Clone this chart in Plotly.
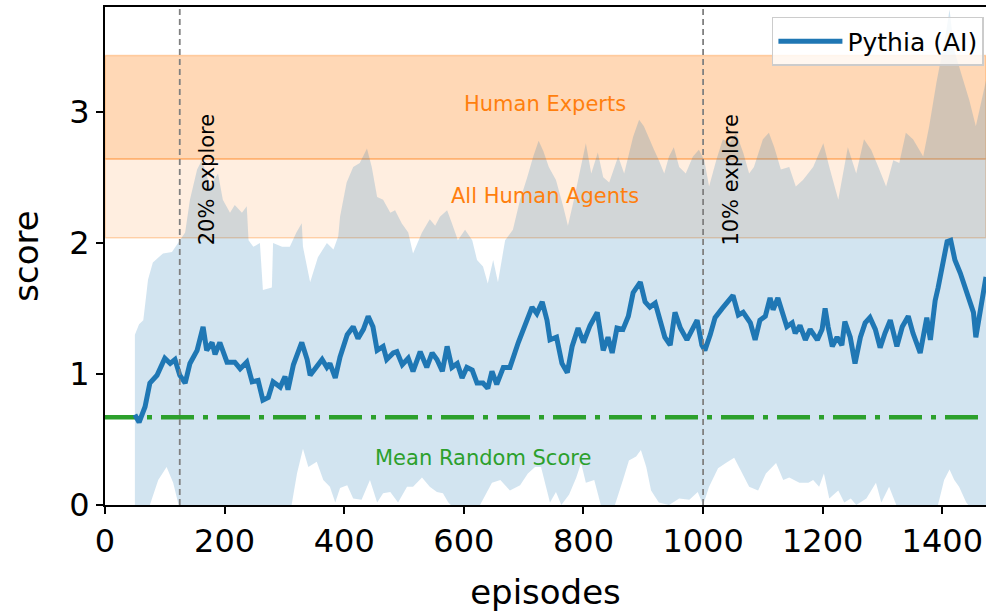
import plotly.graph_objects as go

# Pythia (AI) running mean score per episode
mean_x = [50, 57, 67, 75, 87, 100, 109, 117, 125, 134, 142, 154, 164, 170, 179, 184, 192, 204, 217, 226,
          237, 246, 256, 264, 273, 281, 293, 301, 306, 315, 329, 338, 343, 354, 363, 371, 376, 385, 393, 405,
          415, 423, 432, 440, 448, 455, 465, 471, 482, 488, 497, 507, 515, 527, 538, 547, 555, 564, 572, 580,
          589, 597, 605, 614, 622, 632, 640, 647, 655, 666, 677, 691, 702, 714, 722, 731, 739, 744, 755, 764,
          773, 781, 791, 800, 811, 823, 833, 841, 848, 856, 866, 875, 883, 895, 903, 911, 920, 928, 936, 945,
          953, 962, 973, 982, 990, 998, 1003, 1012, 1020, 1032, 1040, 1050, 1059, 1067, 1079, 1087, 1095, 1104,
          1112, 1117, 1125, 1134, 1140, 1149, 1154, 1162, 1171, 1179, 1191, 1199, 1204, 1209, 1216, 1224, 1232,
          1237, 1246, 1254, 1263, 1271, 1279, 1288, 1296, 1304, 1313, 1324, 1333, 1343, 1351, 1363, 1374, 1380,
          1388, 1393, 1401, 1408, 1414, 1421, 1430, 1438, 1446, 1452, 1456, 1463, 1473]
mean_y = [0.69, 0.63, 0.75, 0.93, 0.99, 1.12, 1.08, 1.11, 0.99, 0.93, 1.08, 1.18, 1.36, 1.18, 1.24, 1.15, 1.24, 1.09, 1.09, 1.04,
          1.09, 0.94, 0.95, 0.80, 0.82, 0.94, 0.90, 0.98, 0.88, 1.07, 1.24, 1.11, 0.99, 1.05, 1.11, 1.05, 1.08, 0.97, 1.13, 1.30,
          1.36, 1.27, 1.34, 1.44, 1.36, 1.18, 1.21, 1.11, 1.16, 1.17, 1.07, 1.12, 1.02, 1.17, 1.05, 1.16, 1.11, 1.02, 1.21, 1.05,
          1.08, 0.97, 1.05, 1.03, 0.93, 0.93, 0.89, 1.02, 0.92, 1.05, 1.05, 1.24, 1.37, 1.51, 1.46, 1.55, 1.41, 1.26, 1.28, 1.08,
          1.01, 1.21, 1.35, 1.24, 1.37, 1.47, 1.18, 1.28, 1.16, 1.35, 1.34, 1.44, 1.62, 1.70, 1.55, 1.51, 1.54, 1.41, 1.28, 1.22,
          1.47, 1.35, 1.26, 1.34, 1.41, 1.22, 1.18, 1.30, 1.43, 1.50, 1.54, 1.60, 1.45, 1.47, 1.39, 1.26, 1.41, 1.44,
          1.58, 1.49, 1.58, 1.43, 1.36, 1.39, 1.31, 1.37, 1.26, 1.34, 1.26, 1.34, 1.50, 1.36, 1.21, 1.28, 1.22,
          1.40, 1.28, 1.08, 1.28, 1.39, 1.43, 1.34, 1.20, 1.31, 1.41, 1.21, 1.36, 1.44, 1.31, 1.16, 1.43, 1.26,
          1.56, 1.66, 1.85, 2.01, 2.02, 1.87, 1.77, 1.66, 1.56, 1.47, 1.28, 1.47, 1.74]

# upper edge of the spread band
upper_x = [50, 57, 64, 72, 80, 97, 112, 122, 134, 142, 154, 162, 176, 189, 197, 209, 217, 229, 237, 240,
           248, 259, 264, 279, 281, 296, 309, 320, 329, 331, 343, 356, 371, 382, 390, 393, 404, 415, 426, 438,
           446, 455, 465, 477, 485, 496, 507, 515, 530, 543, 552, 560, 572, 580, 590, 602, 614, 622, 632, 640,
           649, 657, 669, 682, 694, 706, 716, 725, 733, 742, 754, 766, 774, 784, 796, 804, 813, 824, 833, 843,
           858, 868, 883, 893, 901, 910, 918, 926, 935, 943, 951, 960, 971, 983, 993, 1002, 1010, 1022, 1033,
           1044, 1055, 1067, 1077, 1085, 1100, 1110, 1119, 1130, 1144, 1155, 1167, 1184, 1201, 1211, 1226, 1242,
           1256, 1269, 1281, 1293, 1306, 1318, 1328, 1339, 1351, 1368, 1378, 1390, 1398, 1406, 1412, 1420, 1431,
           1445, 1456, 1465, 1473]
upper_y = [1.30, 1.38, 1.41, 1.72, 1.85, 1.92, 1.93, 2.00, 2.08, 2.33, 2.56, 2.63, 2.43, 2.53, 2.33, 2.23, 2.29, 2.23, 2.28, 2.02,
           1.97, 2.00, 1.64, 1.66, 2.00, 1.97, 1.97, 2.08, 2.15, 1.97, 1.70, 1.89, 2.00, 1.95, 2.05, 2.20, 2.46, 2.58, 2.61, 2.72,
           2.58, 2.35, 2.33, 2.23, 2.25, 2.15, 2.08, 1.92, 2.08, 2.18, 2.13, 2.20, 2.25, 2.15, 2.02, 2.10, 2.02, 1.87, 1.82, 1.69,
           1.87, 1.70, 2.02, 2.10, 2.33, 2.50, 2.66, 2.78, 2.70, 2.58, 2.48, 2.28, 2.13, 2.33, 2.58, 2.76, 2.53, 2.69, 2.50, 2.46,
           2.66, 2.53, 2.81, 2.94, 2.89, 2.79, 2.71, 2.63, 2.53, 2.66, 2.73, 2.58, 2.53, 2.66, 2.71, 2.63, 2.43, 2.63, 2.79,
           2.76, 2.84, 2.69, 2.53, 2.58, 2.79, 2.84, 2.73, 2.56, 2.58, 2.43, 2.48, 2.58, 2.76, 2.58, 2.33, 2.73,
           2.53, 2.79, 2.71, 2.58, 2.43, 2.63, 2.61, 2.84, 2.79, 2.66, 2.89, 3.22, 3.40, 3.60, 3.78, 3.47, 3.30,
           3.09, 2.89, 3.09, 3.24]

# lower edge of the spread band
lower_x = [50, 60, 75, 89, 103, 114, 122, 130, 160, 200, 250, 290, 312, 321, 331, 340, 354, 365, 376, 385,
           393, 405, 415, 429, 443, 455, 465, 477, 490, 505, 515, 530, 543, 555, 565, 574, 589, 605, 627, 647,
           661, 677, 694, 707, 719, 729, 737, 744, 754, 763, 776, 788, 796, 804, 818, 829, 849, 866, 876, 888,
           896, 905, 913, 926, 943, 960, 977, 991, 1000, 1010, 1025, 1038, 1052, 1063, 1077, 1092, 1105, 1122,
           1134, 1144, 1161, 1176, 1184, 1194, 1202, 1211, 1226, 1236, 1247, 1256, 1273, 1289, 1298, 1311, 1323,
           1339, 1370, 1390, 1403, 1412, 1420, 1428, 1440, 1452, 1473]
lower_y = [-0.30, -0.10, 0.00, 0.19, 0.29, 0.17, 0.02, -0.10, -0.30, -0.20, -0.30, -0.10, 0.00, 0.24, 0.43, 0.29, 0.33, 0.19, 0.14, 0.02,
           0.13, 0.15, 0.05, 0.04, 0.19, 0.02, 0.09, 0.10, 0.02, 0.14, 0.14, 0.21, 0.14, 0.10, 0.09, 0.02, -0.05, 0.00, 0.00, 0.17,
           0.19, 0.11, 0.15, 0.24, 0.29, 0.29, 0.15, 0.02, 0.10, 0.00, 0.08, 0.21, 0.32, 0.17, 0.19, 0.00, -0.05, 0.19, 0.34, 0.37,
           0.42, 0.29, 0.11, 0.02, 0.00, 0.05, 0.04, 0.10, 0.00, 0.14, 0.28, 0.32, 0.36, 0.27, 0.14, 0.11, 0.24, 0.32,
           0.19, 0.21, 0.17, 0.17, 0.19, 0.14, 0.24, 0.05, 0.11, 0.02, 0.05, 0.00, 0.05, 0.17, 0.02, 0.14, 0.00,
           -0.10, -0.20, -0.05, 0.19, 0.27, 0.19, 0.14, 0.02, -0.05, -0.10]

# reference levels
random_score = 0.67
all_humans_band = [2.04, 2.64]
experts_band = [2.64, 3.43]
explore_changes = [125, 1000]
explore_labels = ["20% explore", "10% explore"]

x_ticks = [0, 200, 400, 600, 800, 1000, 1200, 1400]
y_ticks = [0, 1, 2, 3]
x_range = [0, 1473]
y_range = [0, 3.8]

BLUE = "#1f77b4"
ORANGE = "#ff7f0e"
GREEN = "#2ca02c"
FONT = "DejaVu Sans"

fig = go.Figure()

# shaded spread around the mean
fig.add_trace(go.Scatter(
    x=upper_x + lower_x[::-1], y=upper_y + lower_y[::-1],
    fill="toself", fillcolor="rgba(31,119,180,0.2)", line=dict(width=0),
    mode="lines", hoverinfo="skip", showlegend=False))

# mean random score line
fig.add_trace(go.Scatter(
    x=[x_range[0], 1500], y=[random_score, random_score], mode="lines",
    line=dict(color=GREEN, width=4.5, dash="33px,9px,5px,9px"), showlegend=False))

# agent running mean
fig.add_trace(go.Scatter(
    x=mean_x, y=mean_y, mode="lines", name="Pythia (AI)",
    line=dict(color=BLUE, width=5)))

shapes = []
for lo, hi, alpha in [(all_humans_band[0], all_humans_band[1], 0.13), (experts_band[0], experts_band[1], 0.3)]:
    shapes.append(dict(type="rect", xref="paper", yref="y", x0=0, x1=1, y0=lo, y1=hi,
                       fillcolor=f"rgba(255,127,14,{alpha})",
                       line=dict(color="rgba(255,127,14,0.3)", width=1.5), layer="below"))
for xv in explore_changes:
    shapes.append(dict(type="line", xref="x", yref="paper", x0=xv, x1=xv, y0=0, y1=1,
                       line=dict(color="#808080", width=1.8, dash="6px,4px"), layer="above"))

annotations = [
    dict(x=736, y=3.06, text="Human Experts", showarrow=False, font=dict(family=FONT, size=21, color=ORANGE)),
    dict(x=736, y=2.36, text="All Human Agents", showarrow=False, font=dict(family=FONT, size=21, color=ORANGE)),
    dict(x=632, y=0.36, text="Mean Random Score", showarrow=False, font=dict(family=FONT, size=21, color=GREEN)),
]
for xv, lab in zip(explore_changes, explore_labels):
    annotations.append(dict(x=xv + 46, y=2.48, text=lab, showarrow=False, textangle=-90,
                            font=dict(family=FONT, size=21, color="black")))

axis_common = dict(showgrid=False, zeroline=False, showline=True, linecolor="black", linewidth=2,
                   ticks="outside", ticklen=7, tickwidth=2, tickcolor="black",
                   tickfont=dict(family=FONT, size=32, color="black"))

fig.update_layout(
    width=986, height=612,
    margin=dict(l=105, r=0, t=7, b=107),
    plot_bgcolor="white", paper_bgcolor="white",
    shapes=shapes, annotations=annotations,
    xaxis=dict(range=x_range, tickvals=x_ticks, mirror=True,
               title=dict(text="episodes", font=dict(family=FONT, size=34, color="black"), standoff=22),
               **axis_common),
    yaxis=dict(range=y_range, tickvals=y_ticks,
               title=dict(text="score", font=dict(family=FONT, size=34, color="black"), standoff=20),
               **axis_common),
    legend=dict(x=0.757, y=0.98, xanchor="left", yanchor="top", itemwidth=64,
                bgcolor="rgba(255,255,255,0.8)", bordercolor="#cccccc", borderwidth=1.5,
                font=dict(family=FONT, size=25, color="black")),
    showlegend=True,
)

fig.write_html("out.html")
